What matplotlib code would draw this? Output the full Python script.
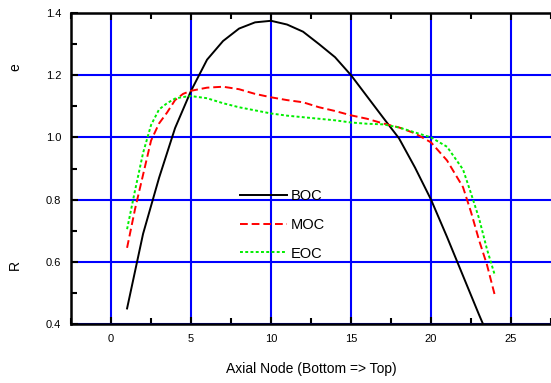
import matplotlib
matplotlib.use("Agg")
import matplotlib.pyplot as plt
from matplotlib.ticker import MultipleLocator

plt.rcParams['font.family'] = ['Liberation Sans', 'DejaVu Sans']

# BOC / MOC / EOC axial profiles
boc_x = list(range(1, 25))
boc_y = [0.45, 0.69, 0.87, 1.03, 1.15, 1.25, 1.31, 1.35, 1.37, 1.375, 1.363, 1.34,
         1.30, 1.258, 1.20, 1.132, 1.064, 0.997, 0.903, 0.80, 0.68, 0.555, 0.43, 0.31]

moc_x = [1, 1.5, 2, 2.5, 3, 3.5, 4, 4.5, 5, 6, 7, 8, 9, 10, 11, 12, 13, 14, 15, 16,
         17, 18, 19, 20, 21, 22, 22.5, 23, 23.5, 24]
moc_y = [0.645, 0.77, 0.88, 0.99, 1.045, 1.08, 1.12, 1.14, 1.15, 1.16, 1.163, 1.155,
         1.14, 1.129, 1.12, 1.113, 1.097, 1.085, 1.071, 1.06, 1.045, 1.032, 1.013,
         0.984, 0.926, 0.84, 0.76, 0.67, 0.59, 0.49]

eoc_x = [1, 1.5, 2, 2.5, 3, 3.5, 4, 4.5, 5, 6, 7, 8, 9, 10, 11, 12, 13, 14, 15, 16,
         17, 18, 19, 20, 21, 22, 22.5, 23, 23.5, 24]
eoc_y = [0.705, 0.83, 0.95, 1.04, 1.09, 1.11, 1.125, 1.13, 1.133, 1.126, 1.11, 1.097,
         1.087, 1.077, 1.07, 1.065, 1.06, 1.055, 1.048, 1.044, 1.042, 1.032, 1.016,
         1.0, 0.97, 0.897, 0.82, 0.74, 0.64, 0.555]

fig = plt.figure(figsize=(5.51, 3.83), dpi=100)
ax = fig.add_axes([0.129, 0.154, 0.871, 0.812])

ax.plot(boc_x, boc_y, color='black', lw=1.4, label='BOC')
ax.plot(moc_x, moc_y, color='red', lw=1.4, linestyle=(0, (4, 2)), label='MOC')
ax.plot(eoc_x, eoc_y, color='#00ee00', lw=1.4, linestyle=(0, (1.5, 1.2)), label='EOC')

ax.set_xlim(-2.5, 27.5)
ax.set_ylim(0.4, 1.4)
ax.xaxis.set_major_locator(MultipleLocator(5))
ax.xaxis.set_minor_locator(MultipleLocator(2.5))
ax.yaxis.set_major_locator(MultipleLocator(0.2))
ax.yaxis.set_minor_locator(MultipleLocator(0.1))
ax.yaxis.set_major_formatter(plt.FormatStrFormatter('%.1f'))

ax.grid(True, which='major', color='#0000ff', lw=1.5)
ax.set_axisbelow(True)
ax.tick_params(which='both', direction='in', top=True, right=False,
               width=1.5, labelsize=8, colors='black')
ax.tick_params(which='major', length=5, pad=7)
ax.tick_params(which='minor', length=4)
for s in ['left', 'bottom', 'top']:
    ax.spines[s].set_linewidth(1.8)
ax.spines['right'].set_visible(False)

ax.set_xlabel('Axial Node (Bottom => Top)', fontsize=10, labelpad=13)
fig.text(0.027, 1 - 67 / 383, 'e', rotation=90, fontsize=10, ha='center', va='center')
fig.text(0.027, 1 - 265 / 383, 'R', rotation=90, fontsize=10, ha='center', va='center')

ax.legend(loc='center left', bbox_to_anchor=(240 / 551, 1 - 225 / 383),
          bbox_transform=fig.transFigure, frameon=False, fontsize=10.5,
          handlelength=3.2, handletextpad=0.3, labelspacing=1.0,
          borderpad=0, borderaxespad=0)

fig.savefig('out.png', dpi=100)
